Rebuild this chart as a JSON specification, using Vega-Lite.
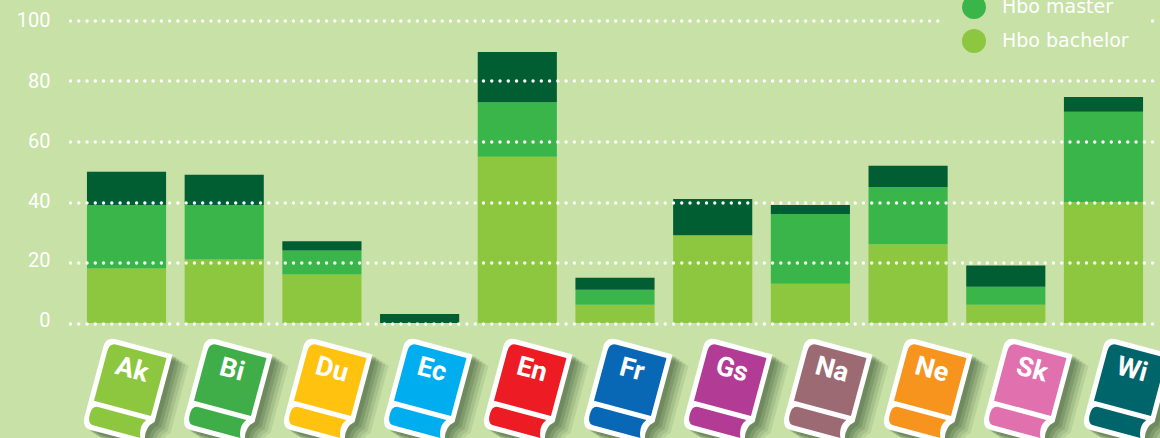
{"$schema":"https://vega.github.io/schema/vega-lite/v6.json","width":1090,"height":302.5,"autosize":{"type":"none"},"padding":{"left":70,"top":20.5,"right":0,"bottom":115},"background":"#c7e1a6","config":{"view":{"stroke":null},"font":"Roboto"},"datasets":{"bars":[{"s":"Ak","series":"Hbo bachelor","v":18},{"s":"Ak","series":"Hbo master","v":21},{"s":"Ak","series":"Wo","v":11},{"s":"Bi","series":"Hbo bachelor","v":21},{"s":"Bi","series":"Hbo master","v":18},{"s":"Bi","series":"Wo","v":10},{"s":"Du","series":"Hbo bachelor","v":16},{"s":"Du","series":"Hbo master","v":8},{"s":"Du","series":"Wo","v":3},{"s":"Ec","series":"Wo","v":3},{"s":"En","series":"Hbo bachelor","v":55},{"s":"En","series":"Hbo master","v":18},{"s":"En","series":"Wo","v":16.6},{"s":"Fr","series":"Hbo bachelor","v":6},{"s":"Fr","series":"Hbo master","v":5},{"s":"Fr","series":"Wo","v":4},{"s":"Gs","series":"Hbo bachelor","v":29},{"s":"Gs","series":"Wo","v":12},{"s":"Na","series":"Hbo bachelor","v":13},{"s":"Na","series":"Hbo master","v":23},{"s":"Na","series":"Wo","v":3},{"s":"Ne","series":"Hbo bachelor","v":26},{"s":"Ne","series":"Hbo master","v":19},{"s":"Ne","series":"Wo","v":7},{"s":"Sk","series":"Hbo bachelor","v":6},{"s":"Sk","series":"Hbo master","v":6},{"s":"Sk","series":"Wo","v":7},{"s":"Wi","series":"Hbo bachelor","v":40},{"s":"Wi","series":"Hbo master","v":29.8},{"s":"Wi","series":"Wo","v":4.9}],"books":[{"s":"Ak"},{"s":"Bi"},{"s":"Du"},{"s":"Ec"},{"s":"En"},{"s":"Fr"},{"s":"Gs"},{"s":"Na"},{"s":"Ne"},{"s":"Sk"},{"s":"Wi"}]},"resolve":{"scale":{"x":"independent"}},"layer":[{"data":{"name":"bars"},"mark":{"type":"bar"},"encoding":{"x":{"field":"s","type":"nominal","sort":null,"title":null,"scale":{"domain":["Ak","Bi","Du","Ec","En","Fr","Gs","Na","Ne","Sk","Wi"],"paddingInner":0.19,"paddingOuter":0.1735},"axis":null},"y":{"field":"v","type":"quantitative","aggregate":"sum","stack":"zero","title":null,"scale":{"domain":[0,100],"nice":false},"axis":{"values":[0,20,40,60,80,100],"domain":false,"ticks":false,"grid":true,"gridColor":"white","gridWidth":3.4,"gridCap":"round","gridDash":[0.01,8.25],"gridOpacity":1,"labelColor":"white","labelFontSize":20,"labelPadding":20,"labelOffset":{"expr":"datum.value==0?-3:datum.value==20?-2:datum.value==40?-1:0"},"zindex":1}},"color":{"field":"series","type":"nominal","scale":{"domain":["Wo","Hbo master","Hbo bachelor"],"range":["#005e32","#39b54a","#8dc63f"]},"legend":{"orient":"none","legendX":871,"legendY":-80.5,"title":null,"symbolType":"circle","symbolSize":576,"symbolOpacity":1,"symbolStrokeWidth":0,"labelColor":"white","labelFont":"DejaVu Sans","labelFontSize":19,"labelOffset":16,"rowPadding":10,"padding":21,"fillColor":"#c7e1a6","zindex":2}},"order":{"field":"series","sort":"ascending"}}},{"data":{"name":"books"},"encoding":{"x":{"field":"s","type":"nominal","sort":null,"title":null,"scale":{"type":"point","padding":0,"domain":["Ak","Bi","Du","Ec","En","Fr","Gs","Na","Ne","Sk","Wi"],"range":[57.4,1057.4]},"axis":null},"y":{"datum":0}},"layer":[{"mark":{"type":"point","filled":true,"size":4,"angle":15,"clip":false,"xOffset":16,"yOffset":78,"opacity":0.1,"fill":"#2f4a2a","stroke":null,"shape":"M -24 -46 L 34.5 -46 L 34.5 24 Q 25 32 31 48 L -26 48 Q -34.5 48 -34.5 36 L -34.5 -36 Q -34.5 -46 -24 -46 Z"}},{"mark":{"type":"point","filled":true,"size":4,"angle":15,"clip":false,"xOffset":13,"yOffset":76,"opacity":0.13,"fill":"#2f4a2a","stroke":null,"shape":"M -24 -46 L 34.5 -46 L 34.5 24 Q 25 32 31 48 L -26 48 Q -34.5 48 -34.5 36 L -34.5 -36 Q -34.5 -46 -24 -46 Z"}},{"mark":{"type":"point","filled":true,"size":4,"angle":15,"clip":false,"xOffset":10,"yOffset":74,"opacity":0.16,"fill":"#2f4a2a","stroke":null,"shape":"M -24 -46 L 34.5 -46 L 34.5 24 Q 25 32 31 48 L -26 48 Q -34.5 48 -34.5 36 L -34.5 -36 Q -34.5 -46 -24 -46 Z"}},{"mark":{"type":"point","filled":true,"size":4,"angle":15,"clip":false,"xOffset":7,"yOffset":72,"opacity":0.18,"fill":"#2f4a2a","stroke":null,"shape":"M -24 -46 L 34.5 -46 L 34.5 24 Q 25 32 31 48 L -26 48 Q -34.5 48 -34.5 36 L -34.5 -36 Q -34.5 -46 -24 -46 Z"}},{"mark":{"type":"point","filled":true,"size":4,"angle":15,"clip":false,"xOffset":4,"yOffset":70,"opacity":0.2,"fill":"#2f4a2a","stroke":null,"shape":"M -24 -46 L 34.5 -46 L 34.5 24 Q 25 32 31 48 L -26 48 Q -34.5 48 -34.5 36 L -34.5 -36 Q -34.5 -46 -24 -46 Z"}},{"mark":{"type":"point","filled":true,"size":4,"angle":15,"clip":false,"yOffset":67,"opacity":1,"fill":"white","stroke":null,"shape":"M -24 -46 L 34.5 -46 L 34.5 24 Q 25 32 31 48 L -26 48 Q -34.5 48 -34.5 36 L -34.5 -36 Q -34.5 -46 -24 -46 Z"}},{"mark":{"type":"point","filled":true,"size":4,"angle":15,"clip":false,"yOffset":67,"opacity":1,"stroke":null,"shape":"M -22 -41 L 29.5 -41 L 29.5 19 L -29.5 19 L -29.5 -32 Q -29.5 -41 -22 -41 Z M -24 24 L 26 24 Q 20 32 25 43 L -24 43 Q -30 43 -30 33 Q -30 24 -24 24 Z"},"encoding":{"fill":{"field":"s","type":"nominal","legend":null,"scale":{"domain":["Ak","Bi","Du","Ec","En","Fr","Gs","Na","Ne","Sk","Wi"],"range":["#8dc63f","#3fae49","#ffc20e","#00aeef","#ed1c24","#0868b5","#b23b96","#9b6a73","#f7941d","#e070ae","#00656a"]}}}},{"mark":{"type":"text","angle":15,"clip":false,"xOffset":4.5,"yOffset":47,"align":"center","baseline":"middle","fontSize":27,"fontWeight":"bold","color":"white"},"encoding":{"text":{"field":"s","type":"nominal"}}}]}]}
